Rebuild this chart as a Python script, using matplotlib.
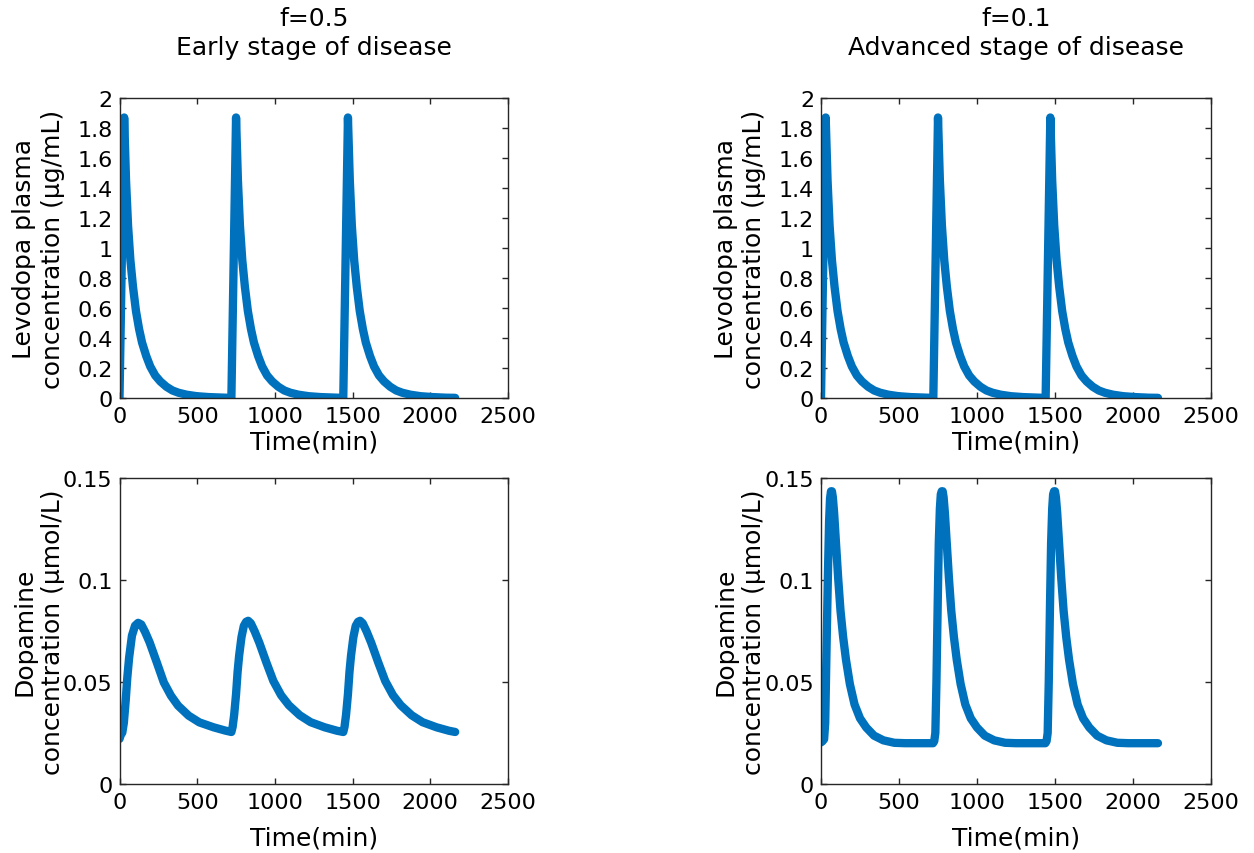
import matplotlib
matplotlib.use("Agg")
import matplotlib.pyplot as plt

# ---------------- data ----------------
# Levodopa plasma concentration (same in both columns)
levo_t = [0, 30, 42, 55, 70, 87, 106, 126, 145, 172, 198, 230, 263, 302, 341, 380,
          432, 497, 575, 680,
          720, 750, 762, 775, 790, 807, 826, 846, 865, 892, 918, 950, 983, 1022,
          1061, 1100, 1152, 1217, 1295, 1400,
          1440, 1470, 1482, 1495, 1510, 1527, 1546, 1566, 1585, 1612, 1638, 1670,
          1703, 1742, 1781, 1820, 1872, 1937, 2015, 2100, 2160]
levo_v = [0.0, 1.87, 1.45, 1.15, 0.92, 0.74, 0.58, 0.46, 0.37, 0.28, 0.21, 0.15,
          0.11, 0.075, 0.05, 0.035, 0.022, 0.012, 0.006, 0.002,
          0.001, 1.87, 1.45, 1.15, 0.92, 0.74, 0.58, 0.46, 0.37, 0.28, 0.21,
          0.15, 0.11, 0.075, 0.05, 0.035, 0.022, 0.012, 0.006, 0.002,
          0.001, 1.87, 1.45, 1.15, 0.92, 0.74, 0.58, 0.46, 0.37, 0.28, 0.21,
          0.15, 0.11, 0.075, 0.05, 0.035, 0.022, 0.012, 0.006, 0.002, 0.001]

# Dopamine concentration, f = 0.5 (early stage)
da05_t = [0, 8, 18, 28, 40, 50, 62, 80, 100, 120, 140, 165, 194, 240, 285, 331,
          377, 445, 514, 605, 680,
          720, 728, 738, 750, 760, 770, 785, 800, 815, 828, 845, 870, 900, 945,
          990, 1040, 1090, 1160, 1230, 1320, 1400,
          1440, 1448, 1458, 1470, 1480, 1490, 1505, 1520, 1535, 1548, 1565, 1590,
          1620, 1665, 1710, 1760, 1810, 1880, 1950, 2040, 2120, 2160]
da05_v = [0.0221, 0.0240, 0.0252, 0.0300, 0.0410, 0.0520, 0.0620, 0.0727, 0.0776,
          0.0790, 0.0782, 0.0745, 0.0694, 0.0596, 0.0498, 0.0433, 0.0384, 0.0335,
          0.0302, 0.0278, 0.0262,
          0.0255, 0.0280, 0.0340, 0.0440, 0.0550, 0.0630, 0.0720, 0.0775, 0.0795,
          0.0800, 0.0788, 0.0748, 0.0692, 0.0596, 0.0505, 0.0435, 0.0386, 0.0337,
          0.0303, 0.0278, 0.0261,
          0.0255, 0.0280, 0.0340, 0.0440, 0.0550, 0.0630, 0.0720, 0.0775, 0.0795,
          0.0800, 0.0788, 0.0748, 0.0692, 0.0596, 0.0505, 0.0435, 0.0386, 0.0337,
          0.0303, 0.0278, 0.0261, 0.0255]

# Dopamine concentration, f = 0.1 (advanced stage)
da01_t = [0, 10, 20, 27, 37, 45, 52, 58, 64, 70, 76, 84, 97, 110, 125, 142, 160,
          185, 215, 250, 290, 340, 400, 470, 540, 620,
          718, 726, 733, 740, 748, 755, 762, 768, 774, 780, 786, 794, 807, 820,
          835, 852, 870, 895, 925, 960, 1000, 1050, 1110, 1180, 1250, 1330,
          1438, 1446, 1453, 1460, 1468, 1475, 1482, 1488, 1494, 1500, 1506, 1514,
          1527, 1540, 1555, 1572, 1590, 1615, 1645, 1680, 1720, 1770, 1830, 1900,
          1970, 2060, 2160]
da01_v = [0.0204, 0.0210, 0.0220, 0.0300, 0.0730, 0.1050, 0.1290, 0.1400, 0.1435,
          0.1435, 0.1405, 0.1330, 0.1170, 0.1010, 0.0850, 0.0720, 0.0610, 0.0490,
          0.0390, 0.0322, 0.0277, 0.0237, 0.0214, 0.0202, 0.0200, 0.0200,
          0.0200, 0.0210, 0.0250, 0.0500, 0.0880, 0.1180, 0.1350, 0.1420, 0.1435,
          0.1435, 0.1405, 0.1330, 0.1170, 0.1010, 0.0850, 0.0720, 0.0610, 0.0490,
          0.0390, 0.0322, 0.0277, 0.0237, 0.0214, 0.0202, 0.0200, 0.0200,
          0.0200, 0.0210, 0.0250, 0.0500, 0.0880, 0.1180, 0.1350, 0.1420, 0.1435,
          0.1435, 0.1405, 0.1330, 0.1170, 0.1010, 0.0850, 0.0720, 0.0610, 0.0490,
          0.0390, 0.0322, 0.0277, 0.0237, 0.0214, 0.0202, 0.0200, 0.0200, 0.0200]

titles = ["f=0.5\nEarly stage of disease", "f=0.1\nAdvanced stage of disease"]
xlabel = "Time(min)"
ylabel_levo = "Levodopa plasma\nconcentration (µg/mL)"
ylabel_da = "Dopamine\nconcentration (µmol/L)"
xticks = [0, 500, 1000, 1500, 2000, 2500]
levo_yticks = [0, 0.2, 0.4, 0.6, 0.8, 1, 1.2, 1.4, 1.6, 1.8, 2]
levo_yticklabels = ["0", "0.2", "0.4", "0.6", "0.8", "1", "1.2", "1.4", "1.6", "1.8", "2"]
da_yticks = [0, 0.05, 0.1, 0.15]
da_yticklabels = ["0", "0.05", "0.1", "0.15"]

# ---------------- style ----------------
plt.rcParams['font.family'] = ['DejaVu Sans']
LINE = '#0072BD'
AX = '#262626'
W, H = 1254, 854

fig = plt.figure(figsize=(W / 100, H / 100), dpi=100)

def px_axes(x0, x1, y0, y1):
    return fig.add_axes([x0 / W, 1 - y1 / H, (x1 - x0) / W, (y1 - y0) / H])

axes = {
    'tl': px_axes(119.5, 508, 99, 399),
    'tr': px_axes(821, 1211, 99, 399),
    'bl': px_axes(119.5, 508, 479, 785),
    'br': px_axes(821, 1211, 479, 785),
}

def style(ax, yt, ytl, ylim, ylab, xlabelpad):
    ax.set_xlim(0, 2500)
    ax.set_ylim(*ylim)
    ax.set_xticks(xticks)
    ax.set_xticklabels([str(v) for v in xticks])
    ax.set_yticks(yt)
    ax.set_yticklabels(ytl)
    ax.tick_params(direction='in', length=4, width=1, color=AX, labelsize=16,
                   top=True, right=True, labelcolor='black')
    ax.tick_params(axis='x', pad=6)
    ax.tick_params(axis='y', pad=5)
    for s in ax.spines.values():
        s.set_color(AX)
        s.set_linewidth(1.0)
    ax.set_xlabel(xlabel, fontsize=18, labelpad=xlabelpad)
    ax.set_ylabel(ylab, fontsize=18, linespacing=1.25)
    ax.yaxis.set_label_coords(-0.14, 0.5)

for key in ['tl', 'tr']:
    ax = axes[key]
    ax.plot(levo_t, levo_v, color=LINE, lw=6, solid_joinstyle='round',
            solid_capstyle='round')
    style(ax, levo_yticks, levo_yticklabels, (0, 2), ylabel_levo, 2)

axes['bl'].plot(da05_t, da05_v, color=LINE, lw=6, solid_joinstyle='round',
                solid_capstyle='round')
style(axes['bl'], da_yticks, da_yticklabels, (0, 0.15), ylabel_da, 9.5)
axes['br'].plot(da01_t, da01_v, color=LINE, lw=6, solid_joinstyle='round',
                solid_capstyle='round')
style(axes['br'], da_yticks, da_yticklabels, (0, 0.15), ylabel_da, 9.5)

axes['tl'].set_title(titles[0], fontsize=18, pad=31.5, linespacing=1.25)
axes['tr'].set_title(titles[1], fontsize=18, pad=31.5, linespacing=1.25)

fig.savefig("out.png", dpi=100)
